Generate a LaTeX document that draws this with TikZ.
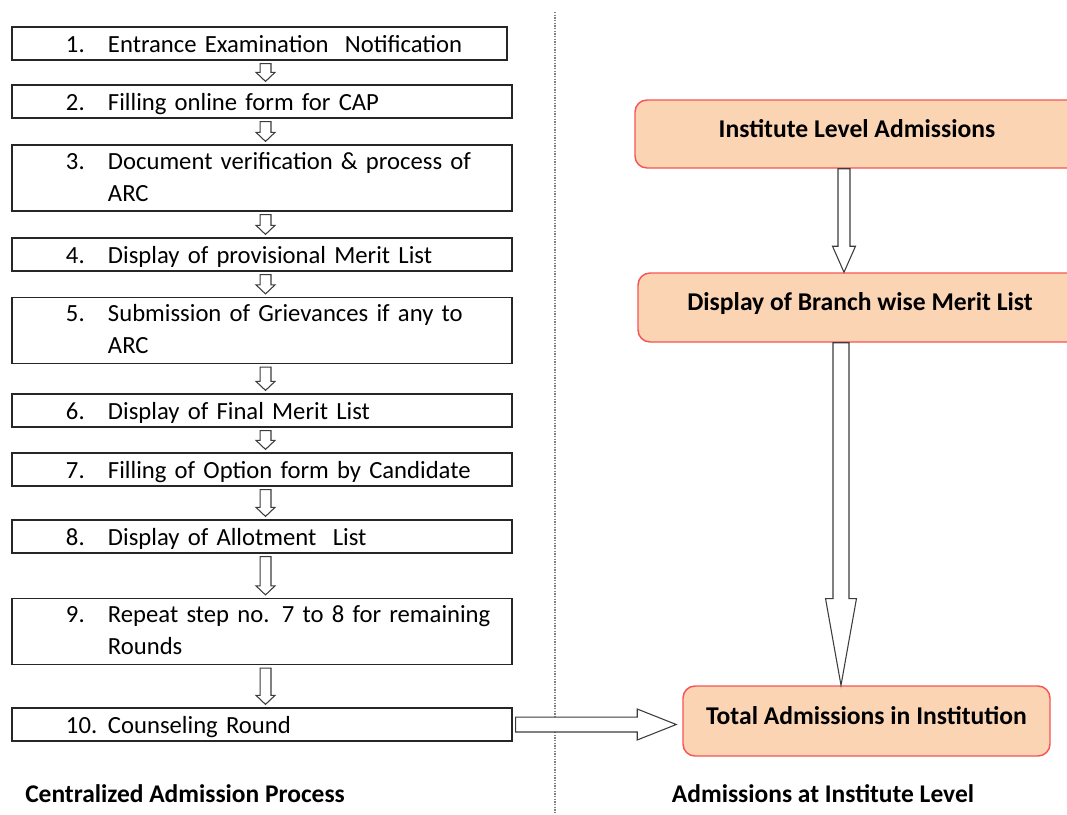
\documentclass[tikz,border=0pt]{standalone}
\usepackage{fontspec}
\setmainfont{Carlito}
\usetikzlibrary{calc}

\definecolor{peach}{RGB}{251,212,180}
\definecolor{redline}{RGB}{245,85,85}
\definecolor{arrowgray}{RGB}{60,60,60}

\newcommand{\steptext}[3][-6.5pt]{\raisebox{#1}[0pt][0pt]{\hspace*{40.5pt}\makebox[31.5pt][l]{#2}\parbox[t]{290pt}{\raggedright #3}}}

% block arrow, pointing down: start, tip, shaft half width, head half width, head length
\newcommand{\flowdown}[5]{%
  \draw[blockarrow] let \p1=(#1), \p2=(#2) in
    (\x2-#3,\y1) -- (\x2-#3,\y2+#5) -- (\x2-#4,\y2+#5) -- (\x2,\y2)
    -- (\x2+#4,\y2+#5) -- (\x2+#3,\y2+#5) -- (\x2+#3,\y1) -- cycle;}
% block arrow, pointing right
\newcommand{\flowright}[5]{%
  \draw[blockarrow] let \p1=(#1), \p2=(#2) in
    (\x1,\y1+#3) -- (\x2-#5,\y1+#3) -- (\x2-#5,\y1+#4) -- (\x2,\y1)
    -- (\x2-#5,\y1-#4) -- (\x2-#5,\y1-#3) -- (\x1,\y1-#3) -- cycle;}

\tikzset{
  stepbox/.style={draw=black!85, line width=0.9pt, inner sep=0pt, text width=375pt,
    align=left, minimum height=24.75pt, font=\fontsize{18.5}{24}\selectfont},
  tallbox/.style={stepbox, minimum height=49.5pt},
  instbox/.style={draw=redline, fill=peach, line width=1.1pt, rounded corners=9pt,
    font=\fontsize{19.2}{24}\selectfont\bfseries, text height=12.4pt, text depth=7.3pt,
    minimum width=333pt, minimum height=51pt},
  blockarrow/.style={draw=arrowgray, line width=0.8pt, fill=white, line join=miter},
  caption/.style={font=\fontsize{19.1}{24}\selectfont\bfseries, inner sep=0pt}
}

\begin{document}
\begin{tikzpicture}[x=0.75pt, y=-0.75pt]
  \clip (0,0) rectangle (1067,814);

  % divider
  \coordinate (divtop) at (555,12);
  \coordinate (divbot) at (555,814);
  \draw[gray, line width=1pt, dash pattern=on 1pt off 1pt] (divtop) -- (divbot);

  % centralized admission process
  \node[stepbox, text width=371.25pt] (s1) at (259.5,43.5) {\steptext{1.}{Entrance Examination\ \ Notification}};
  \node[stepbox] (s2) at (262,101.5) {\steptext{2.}{Filling online form for CAP}};
  \node[tallbox] (s3) at (262,178) {\steptext[6.4pt]{3.}{Document verification \& process of ARC}};
  \node[stepbox] (s4) at (262,254.5) {\steptext{4.}{Display of provisional Merit List}};
  \node[tallbox] (s5) at (262,330.5) {\steptext[6.4pt]{5.}{Submission of Grievances if any to ARC}};
  \node[stepbox] (s6) at (262,410.5) {\steptext{6.}{Display of Final Merit List}};
  \node[stepbox] (s7) at (262,469.5) {\steptext{7.}{Filling of Option form by Candidate}};
  \node[stepbox] (s8) at (262,536.5) {\steptext{8.}{Display of Allotment\ \ List}};
  \node[tallbox] (s9) at (262,631.5) {\steptext[6.4pt]{9.}{Repeat step no. 7 to 8 for remaining Rounds}};
  \node[stepbox] (s10) at (262,724.5) {\steptext{10.}{Counseling Round}};

  \foreach \a/\b in {1/2,2/3,3/4,4/5,5/6,6/7,7/8,8/9,9/10}
    \flowdown{$(s\a.south)+(3.5,3)$}{$(s\b.north)+(3.5,-3)$}{4.1pt}{7.1pt}{6.75pt};

  % institute level
  \node[instbox] (inst) at (857,134) {Institute Level Admissions};
  \node[instbox, minimum height=51.75pt] (branch) at (860,307.5) {Display of Branch wise Merit List};
  \node[instbox, minimum width=275.25pt, minimum height=52.5pt] (total) at (866.5,721) {Total Admissions in Institution};

  \flowdown{inst.south}{$(branch.north)+(-16,0)$}{4.5pt}{8.6pt}{19.5pt};
  \flowdown{branch.south}{$(total.north)+(-25.5,0)$}{6pt}{11.6pt}{65pt};
  \flowright{$(s10.east)+(3,0)$}{$(total.west |- s10.east)+(-6,0)$}{5.6pt}{11.6pt}{29.25pt};

  % captions
  \node[caption, anchor=west] (capleft) at (25,794) {Centralized Admission Process};
  \node[caption] (capright) at (823,794) {Admissions at Institute Level};
\end{tikzpicture}
\end{document}
